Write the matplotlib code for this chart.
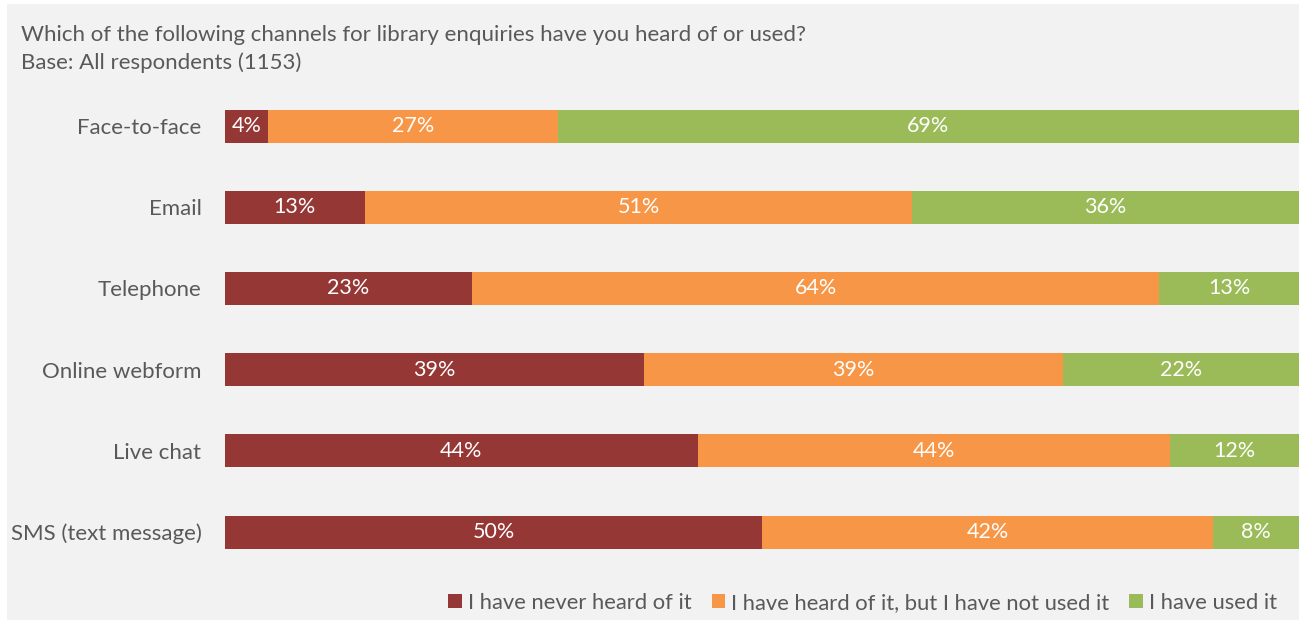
import matplotlib.pyplot as plt
from matplotlib.patches import Rectangle
import numpy as np

channels = ["Face-to-face", "Email", "Telephone", "Online webform", "Live chat", "SMS (text message)"]
never_heard = [4, 13, 23, 39, 44, 50]
heard_not_used = [27, 51, 64, 39, 44, 42]
used = [69, 36, 13, 22, 12, 8]
series_names = ["I have never heard of it", "I have heard of it, but I have not used it", "I have used it"]
colors = ["#953735", "#F79646", "#9BBB59"]

title_lines = ["Which of the following channels for library enquiries have you heard of or used?",
               "Base: All respondents (1153)"]

W, H = 1299, 624
fig = plt.figure(figsize=(W / 100, H / 100), dpi=100)
fig.patch.set_facecolor("white")
fig.patches.append(Rectangle((7 / W, 4 / H), 1 - 7 / W, 1 - 8 / H, transform=fig.transFigure,
                             facecolor="#F2F2F2", edgecolor="none", zorder=-10))

font = ["Lato", "DejaVu Sans"]
txt_color = "#595959"

# axes: x 225..1299 px, bars centred from 126 to 532 px
top_c, bot_c = 126, 532
step = (bot_c - top_c) / 5
ax_top = top_c - step / 2
ax_bot = bot_c + step / 2
ax = fig.add_axes([225 / W, 1 - ax_bot / H, (W - 225) / W, (ax_bot - ax_top) / H])
ax.set_zorder(5)
ax.set_facecolor("none")
ax.set_xlim(0, 100)
y = np.arange(len(channels))
ax.set_ylim(len(channels) - 0.5, -0.5)

left = np.zeros(len(channels))
for vals, col, name in zip([never_heard, heard_not_used, used], colors, series_names):
    vals = np.array(vals, dtype=float)
    ax.barh(y, vals, left=left, height=33 / step, color=col, label=name)
    for yi, l, v in zip(y, left, vals):
        ax.text(l + v / 2, yi, f"{int(v)}%", ha="center", va="center", color="white",
                fontsize=15.5, family=font)
    left += vals

ax.set_yticks(y)
ax.set_yticklabels(channels, family=font, fontsize=16, color=txt_color)
ax.tick_params(axis="y", length=0, pad=17)
ax.set_xticks([])
for s in ax.spines.values():
    s.set_visible(False)

fig.text(21 / W, 1 - 35 / H, title_lines[0], family=font, fontsize=16, color=txt_color, va="center")
fig.text(21 / W, 1 - 63 / H, title_lines[1], family=font, fontsize=16, color=txt_color, va="center")

leg = fig.legend(loc="center right", bbox_to_anchor=(1286 / W, 1 - 603 / H), ncol=3, frameon=False,
                 prop={"family": font, "size": 15.8},
                 handlelength=0.6, handleheight=0.6, handletextpad=0.3, columnspacing=0.9,
                 borderaxespad=0)
for t in leg.get_texts():
    t.set_color(txt_color)

fig.savefig("out.png", dpi=100, facecolor=fig.get_facecolor())
